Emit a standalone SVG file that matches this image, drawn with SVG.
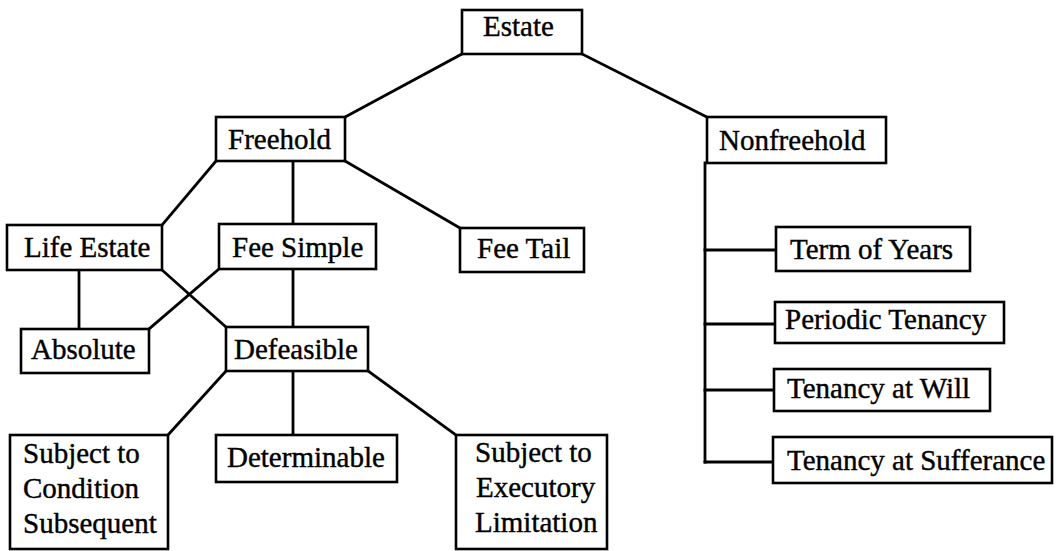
<svg xmlns="http://www.w3.org/2000/svg" width="1057" height="551" viewBox="0 0 1057 551">
<style>
rect{fill:#fff;stroke:#000;stroke-width:2.6}
.c line{stroke:#000;stroke-width:2.8;stroke-linecap:square}
text{font-family:"Liberation Serif","Times New Roman",serif;font-size:29px;fill:#000;stroke:#000;stroke-width:0.4}
</style>
<rect x="0" y="0" width="1057" height="551" style="stroke:none"/>
<g class="c" id="connectors">
<line x1="462" y1="54" x2="345" y2="117"/>
<line x1="582" y1="54" x2="707" y2="117"/>
<line x1="216" y1="161" x2="162" y2="225"/>
<line x1="293" y1="161" x2="293" y2="224"/>
<line x1="345" y1="161" x2="460" y2="228"/>
<line x1="79" y1="270" x2="79" y2="329"/>
<line x1="219" y1="269" x2="149" y2="329"/>
<line x1="162" y1="270" x2="226" y2="327"/>
<line x1="293" y1="269" x2="293" y2="327"/>
<line x1="226" y1="371" x2="168" y2="435"/>
<line x1="293" y1="371" x2="293" y2="435"/>
<line x1="368" y1="371" x2="456" y2="435"/>
<line x1="705" y1="163" x2="705" y2="462"/>
<line x1="705" y1="250" x2="776" y2="250"/>
<line x1="705" y1="324" x2="775" y2="324"/>
<line x1="705" y1="390" x2="774" y2="390"/>
<line x1="705" y1="462" x2="773" y2="462"/>
</g>
<g id="estate"><rect x="462" y="10" width="120" height="44"/><text x="483" y="36">Estate</text></g>
<g id="freehold"><rect x="216" y="117" width="129" height="44"/><text x="228" y="149">Freehold</text></g>
<g id="nonfreehold"><rect x="707" y="117" width="179" height="46"/><text x="719" y="150">Nonfreehold</text></g>
<g id="life-estate"><rect x="7" y="225" width="155" height="45"/><text x="24" y="257">Life Estate</text></g>
<g id="fee-simple"><rect x="219" y="224" width="157" height="45"/><text x="232" y="257">Fee Simple</text></g>
<g id="fee-tail"><rect x="460" y="228" width="124" height="44"/><text x="477" y="258">Fee Tail</text></g>
<g id="absolute"><rect x="21" y="329" width="128" height="44"/><text x="31" y="359">Absolute</text></g>
<g id="defeasible"><rect x="226" y="327" width="142" height="44"/><text x="234" y="359">Defeasible</text></g>
<g id="subject-condition"><rect x="10" y="435" width="158" height="114"/><text x="23" y="463">Subject to</text><text x="23" y="498">Condition</text><text x="23" y="533">Subsequent</text></g>
<g id="determinable"><rect x="216" y="435" width="181" height="47"/><text x="227" y="467">Determinable</text></g>
<g id="subject-executory"><rect x="456" y="435" width="151" height="114"/><text x="475" y="462">Subject to</text><text x="476" y="497">Executory</text><text x="475" y="532">Limitation</text></g>
<g id="term-of-years"><rect x="776" y="227" width="194" height="44"/><text x="790" y="259">Term of Years</text></g>
<g id="periodic-tenancy"><rect x="775" y="302" width="229" height="41"/><text x="785" y="329">Periodic Tenancy</text></g>
<g id="tenancy-at-will"><rect x="774" y="369" width="216" height="42"/><text x="787" y="398">Tenancy at Will</text></g>
<g id="tenancy-at-sufferance"><rect x="773" y="437" width="279" height="46"/><text x="787" y="470">Tenancy at Sufferance</text></g>
</svg>
